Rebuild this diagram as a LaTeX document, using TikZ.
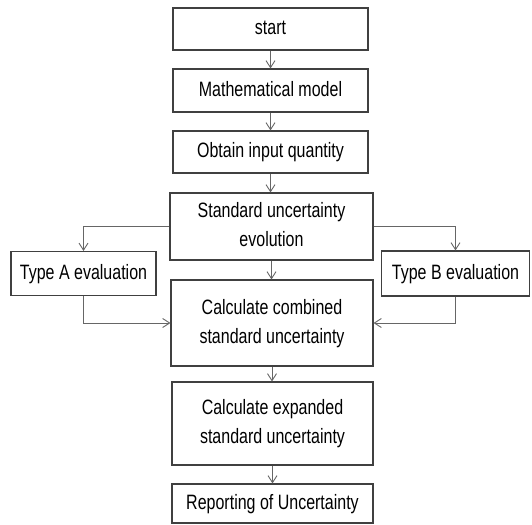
\documentclass[tikz,border=0pt]{standalone}
\usepackage{fontspec}
\setmainfont{Liberation Sans}
\usetikzlibrary{arrows.meta}
\newcommand{\boxtxt}[1]{\scalebox{1}[1.3]{\fontsize{16}{22}\selectfont\begin{tabular}{@{}c@{}}#1\end{tabular}}}
\begin{document}
\begin{tikzpicture}[x=1pt,y=-1pt,
  flowbox/.style={draw=black!75, line width=1.1pt, rectangle, inner sep=0pt, fill=white, text=black},
  conn/.style={draw=black!60, line width=1pt, -{Straight Barb[length=7pt,width=9pt,line width=0.9pt]}}]
\useasboundingbox (0,0) rectangle (532,524);
\node[flowbox, minimum width=195pt, minimum height=42pt] (start) at (270.5,29) {\boxtxt{start}};
\node[flowbox, minimum width=195pt, minimum height=43pt] (math) at (270.5,90.5) {\boxtxt{Mathematical model}};
\node[flowbox, minimum width=195pt, minimum height=42pt] (obtain) at (270.5,152) {\boxtxt{Obtain input quantity}};
\node[flowbox, minimum width=203pt, minimum height=67pt] (std) at (271.5,226.5) {\boxtxt{Standard uncertainty\\evolution}};
\node[flowbox, minimum width=145pt, minimum height=44pt] (typeA) at (83.5,273.5) {\boxtxt{Type A evaluation}};
\node[flowbox, minimum width=148pt, minimum height=45pt] (typeB) at (455.5,273.5) {\boxtxt{Type B evaluation}};
\node[flowbox, minimum width=202pt, minimum height=86pt] (comb) at (272,323) {\boxtxt{Calculate combined\\standard uncertainty}};
\node[flowbox, minimum width=201pt, minimum height=83pt] (exp) at (272.5,423.5) {\boxtxt{Calculate expanded\\standard uncertainty}};
\node[flowbox, minimum width=201pt, minimum height=39pt] (rep) at (272.5,503.5) {\boxtxt{Reporting of Uncertainty}};
\draw[conn] (start) -- (math);
\draw[conn] (math) -- (obtain);
\draw[conn] (obtain) -- (obtain |- std.north);
\draw[conn] (std) -- (std |- comb.north);
\draw[conn] (comb) -- (comb |- exp.north);
\draw[conn] (exp) -- (exp |- rep.north);
\draw[conn] (std.west) -| (typeA.north);
\draw[conn] (std.east) -| (typeB.north);
\draw[conn] (typeA.south) |- (comb.west);
\draw[conn] (typeB.south) |- (comb.east);
\end{tikzpicture}
\end{document}
